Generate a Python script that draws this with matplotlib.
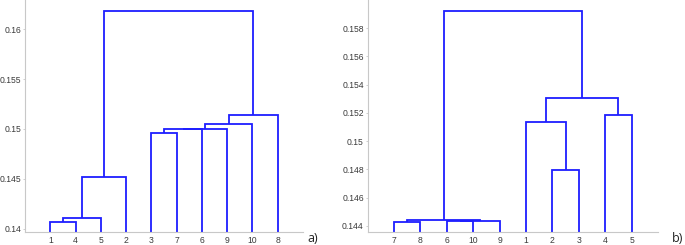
import matplotlib
matplotlib.use("Agg")
import matplotlib.pyplot as plt

# Panel a) linkage: (left child, right child, height); ids > 10 refer to earlier merges (11 = first)
merges_a = [
    (1, 4, 0.14064),
    (11, 5, 0.14104),
    (12, 2, 0.14517),
    (3, 7, 0.14964),
    (14, 6, 0.15000),
    (15, 9, 0.15004),
    (16, 10, 0.15054),
    (17, 8, 0.15140),
    (13, 18, 0.16183),
]
yticks_a = [0.14, 0.145, 0.15, 0.155, 0.16]
ylim_a = (0.13967, 0.16293)

# Panel b)
merges_b = [
    (7, 8, 0.14430),
    (6, 10, 0.14432),
    (12, 9, 0.14438),
    (11, 13, 0.14442),
    (2, 3, 0.14796),
    (1, 15, 0.15134),
    (4, 5, 0.15186),
    (16, 17, 0.15304),
    (14, 18, 0.15925),
]
yticks_b = [0.144, 0.146, 0.148, 0.15, 0.152, 0.154, 0.156, 0.158]
ylim_b = (0.14355, 0.16000)

N_LEAVES = 10
LINE_COLOR = "#1e1eff"
SPINE_COLOR = "#c8c8c8"
TEXT_COLOR = "#3a3a3a"


def leaf_order(merges, n):
    def walk(node):
        if node <= n:
            return [node]
        l, r, _ = merges[node - n - 1]
        return walk(l) + walk(r)
    return walk(n + len(merges))


def draw_dendrogram(ax, merges, n, ylim, yticks):
    order = leaf_order(merges, n)
    xpos = {leaf: i + 1 for i, leaf in enumerate(order)}
    ypos = {leaf: ylim[0] for leaf in order}
    for k, (l, r, h) in enumerate(merges):
        xl, xr = xpos[l], xpos[r]
        yl, yr = ypos[l], ypos[r]
        ax.plot([xl, xl, xr, xr], [yl, h, h, yr], color=LINE_COLOR, lw=1.3,
                solid_joinstyle="miter", solid_capstyle="butt")
        nid = n + k + 1
        xpos[nid] = (xl + xr) / 2
        ypos[nid] = h
    ax.set_xlim(0, n + 1)
    ax.set_ylim(*ylim)
    ax.set_xticks(range(1, n + 1))
    ax.set_xticklabels([str(v) for v in order])
    ax.set_yticks(yticks)
    ax.set_yticklabels(["%g" % v for v in yticks])
    for s in ("top", "right"):
        ax.spines[s].set_visible(False)
    for s in ("left", "bottom"):
        ax.spines[s].set_color(SPINE_COLOR)
        ax.spines[s].set_linewidth(0.8)
    ax.tick_params(axis="x", length=0, pad=3, labelsize=6.2, colors=TEXT_COLOR)
    ax.tick_params(axis="y", length=1.6, width=0.6, pad=1.2, labelsize=6.2,
                   colors=SPINE_COLOR, labelcolor=TEXT_COLOR, direction="out")
    ax.patch.set_alpha(0)


plt.rcParams["font.family"] = ["Liberation Sans", "DejaVu Sans"]
fig = plt.figure(figsize=(6.85, 2.45), dpi=100)
ax1 = fig.add_axes([25 / 685, 13 / 245, 278 / 685, 232 / 245])
ax2 = fig.add_axes([367.7 / 685, 12.7 / 245, 290.3 / 685, 232.3 / 245])
draw_dendrogram(ax1, merges_a, N_LEAVES, ylim_a, yticks_a)
draw_dendrogram(ax2, merges_b, N_LEAVES, ylim_b, yticks_b)

fig.text(312.5 / 685, 1 - 238 / 245, "a)", ha="center", va="center",
         fontsize=9, color="#222222", family=["Open Sans", "DejaVu Sans"])
fig.text(678 / 685, 1 - 238 / 245, "b)", ha="center", va="center",
         fontsize=9, color="#222222", family=["Open Sans", "DejaVu Sans"])

fig.savefig("out.png", dpi=100)
